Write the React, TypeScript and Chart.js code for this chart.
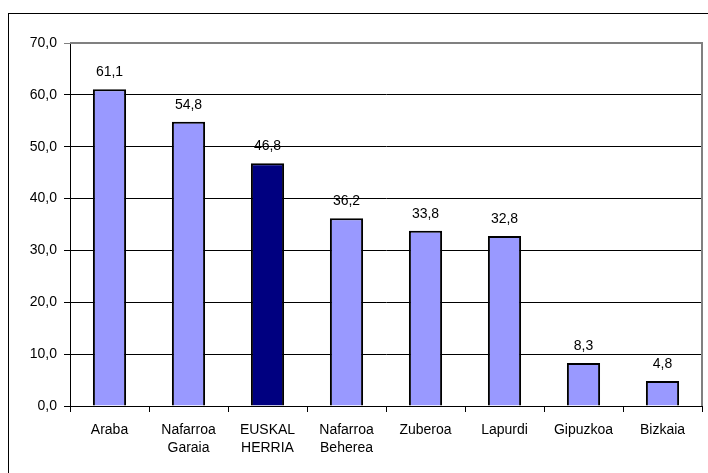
import React, { useEffect, useRef } from "react";
import { Chart, registerables } from "chart.js";

Chart.register(...registerables);

const categories: (string | string[])[] = [
  "Araba",
  ["Nafarroa", "Garaia"],
  ["EUSKAL", "HERRIA"],
  ["Nafarroa", "Beherea"],
  "Zuberoa",
  "Lapurdi",
  "Gipuzkoa",
  "Bizkaia",
];
const values: number[] = [61.1, 54.8, 46.8, 36.2, 33.8, 32.8, 8.3, 4.8];
const barColors: string[] = ["#9999FF", "#9999FF", "#000080", "#9999FF", "#9999FF", "#9999FF", "#9999FF", "#9999FF"];
const yTicks: number[] = [0, 10, 20, 30, 40, 50, 60, 70];

const FONT = "'Liberation Sans', Arial, sans-serif";
const fmt = (v: number) => v.toFixed(1).replace(".", ",");

const framePlugin = {
  id: "frame",
  beforeDraw(chart: any) {
    const ctx = chart.ctx;
    ctx.save();
    ctx.fillStyle = "#ffffff";
    ctx.fillRect(0, 0, chart.width, chart.height);
    ctx.strokeStyle = "#000000";
    ctx.lineWidth = 1;
    ctx.strokeRect(8.5, 13.5, 760, 520);
    ctx.restore();
  },
  afterDatasetsDraw(chart: any) {
    const ctx = chart.ctx;
    const a = chart.chartArea;
    ctx.save();
    ctx.strokeStyle = "#808080";
    ctx.lineWidth = 2;
    ctx.beginPath();
    ctx.moveTo(a.left, a.top);
    ctx.lineTo(a.right, a.top);
    ctx.lineTo(a.right, a.bottom);
    ctx.stroke();
    // data labels
    ctx.fillStyle = "#000000";
    ctx.font = `14px ${FONT}`;
    ctx.textAlign = "center";
    ctx.textBaseline = "bottom";
    const meta = chart.getDatasetMeta(0);
    meta.data.forEach((bar: any, i: number) => {
      ctx.fillText(fmt(values[i]), bar.x, bar.y - 10);
    });
    ctx.restore();
  },
};

export default function App() {
  const ref = useRef<HTMLCanvasElement | null>(null);
  useEffect(() => {
    if (!ref.current) return;
    const chart = new Chart(ref.current, {
      type: "bar",
      data: {
        labels: categories,
        datasets: [
          {
            data: values,
            backgroundColor: barColors,
            borderColor: "#000000",
            borderWidth: 2,
            categoryPercentage: 1,
            barPercentage: 0.42,
          },
        ],
      },
      options: {
        animation: false,
        responsive: false,
        maintainAspectRatio: false,
        layout: { padding: { top: 43, right: 6, left: 0, bottom: 0 } },
        plugins: { legend: { display: false }, tooltip: { enabled: false } },
        scales: {
          x: {
            offset: true,
            grid: { display: true, drawOnChartArea: false, drawTicks: true, tickLength: 6, color: "#000000", offset: true },
            border: { display: true, color: "#000000", width: 1 },
            ticks: { color: "#000000", font: { family: FONT, size: 14, lineHeight: 1.3 }, padding: 9, maxRotation: 0, autoSkip: false },
            afterFit: (s: any) => { s.height = 67; },
          },
          y: {
            min: 0,
            max: 70,
            grid: {
              color: (c: any) => (c.tick && c.tick.value === 70 ? "#808080" : "#000000"),
              lineWidth: 1,
              tickLength: 6,
            },
            border: { display: true, color: "#000000", width: 1 },
            afterBuildTicks: (s: any) => { s.ticks = yTicks.map((v) => ({ value: v })); },
            ticks: {
              color: "#000000",
              font: { family: FONT, size: 14 },
              padding: 7,
              callback: (v: any) => fmt(Number(v)),
            },
            afterFit: (s: any) => { s.width = 70; },
          },
        },
      },
      plugins: [framePlugin],
    });
    return () => chart.destroy();
  }, []);
  return (
    <div style={{ position: "absolute", left: 0, top: 0, width: 708, height: 473 }}>
      <canvas ref={ref} width={708} height={473} style={{ width: 708, height: 473, display: "block" }} />
    </div>
  );
}
